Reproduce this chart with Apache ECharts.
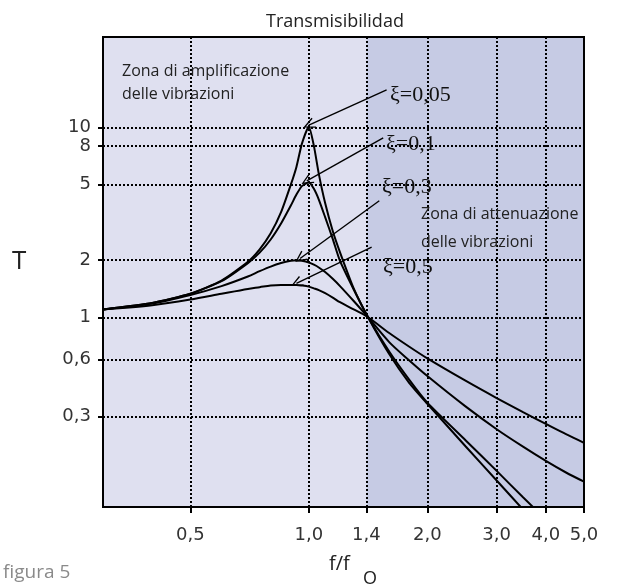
<!DOCTYPE html>
<html>
<head>
<meta charset="utf-8">
<script src="https://cdn.jsdelivr.net/npm/echarts@6/dist/echarts.min.js"></script>
<style>
  html, body { margin: 0; padding: 0; background: #fff; }
  #chart { width: 617px; height: 586px; }
</style>
</head>
<body>
<div id="chart"></div>
<script>
// f/fo values where the curves were read
const ratios = [0.3, 0.4, 0.5, 0.6, 0.7, 0.75, 0.8, 0.85, 0.9, 0.93, 0.96, 1.0, 1.03, 1.06, 1.1, 1.15, 1.2, 1.3, 1.414, 1.6, 1.8, 2.0, 2.5, 3.0, 3.5, 4.0, 4.5, 5.0];

// transmissibility T for each damping ratio
const t005 = [1.10, 1.19, 1.33, 1.56, 1.96, 2.28, 2.77, 3.58, 5.0, 6.2, 8.2, 10.1, 8.0, 5.7, 4.0, 2.85, 2.2, 1.42, 1.0, 0.64, 0.45, 0.35, 0.209, 0.138, 0.097, 0.071, 0.055, 0.045];
const t01 = [1.10, 1.19, 1.33, 1.55, 1.93, 2.19, 2.57, 3.12, 3.88, 4.43, 4.91, 5.15, 4.75, 4.17, 3.37, 2.59, 1.98, 1.40, 1.0, 0.66, 0.468, 0.355, 0.225, 0.155, 0.1125, 0.086, 0.068, 0.056];
const t03 = [1.10, 1.18, 1.31, 1.46, 1.64, 1.75, 1.85, 1.93, 1.985, 2.0, 1.985, 1.944, 1.893, 1.83, 1.73, 1.595, 1.46, 1.218, 1.0, 0.74, 0.592, 0.49, 0.339, 0.257, 0.208, 0.175, 0.152, 0.136];
const t05 = [1.10, 1.158, 1.24, 1.33, 1.41, 1.44, 1.47, 1.48, 1.48, 1.48, 1.47, 1.45, 1.42, 1.39, 1.34, 1.27, 1.2, 1.1, 1.0, 0.826, 0.699, 0.607, 0.463, 0.375, 0.316, 0.274, 0.242, 0.218];

const xTicks = [0.5, 1, 1.4, 2, 3, 4, 5];
const xTickLabels = ['0,5', '1,0', '1,4', '2,0', '3,0', '4,0', '5,0'];
const yTicks = [0.3, 0.6, 1, 2, 5, 8, 10];
const yTickLabels = ['0,3', '0,6', '1', '2', '5', '8', '10'];

const dampingLabels = ['ξ=0,05', 'ξ=0,1', 'ξ=0,3', 'ξ=0,5'];
// arrows: tail near the label, head on the curve
const arrowFrom = [[1.576, 15.8], [1.545, 8.83], [1.51, 4.11], [1.444, 2.34]];
const arrowTo = [[1.0, 10.3], [0.988, 5.23], [0.95, 2.04], [0.93, 1.51]];

const zoneSplit = 1.4;

function tickName(list, names, v) {
  for (let i = 0; i < list.length; i++) {
    if (Math.abs(list[i] - v) < 1e-6 * list[i]) return names[i];
  }
  return '';
}

function pairs(ys) {
  return ratios.map((r, i) => [r, ys[i]]);
}

const chart = echarts.init(document.getElementById('chart'));

const curveStyle = { color: '#000', width: 2 };
const sans = '"Open Sans", "DejaVu Sans", sans-serif';
const tickFont = '"DejaVu Sans", sans-serif';
const serif = '"Liberation Serif", "DejaVu Serif", serif';
const gridDots = { color: '#000', width: 2, type: [2, 2] };
// open "V" arrow head
const openArrow = 'path://M0,0 L6,12 L4.6,12.6 L0,3 L-4.6,12.6 L-6,12 Z';

const option = {
  animation: false,
  grid: {
    left: 103, right: 33, top: 37, bottom: 79,
    show: true,
    borderColor: '#000',
    borderWidth: 2,
    backgroundColor: 'transparent'
  },
  xAxis: {
    type: 'log',
    min: 0.3,
    max: 5,
    axisLine: { lineStyle: { color: '#000', width: 2 } },
    axisTick: { show: true, customValues: xTicks, length: 6, lineStyle: { color: '#000', width: 2 } },
    axisLabel: {
      customValues: xTicks,
      formatter: v => tickName(xTicks, xTickLabels, v),
      fontFamily: tickFont, fontSize: 18, color: '#333', margin: 19
    },
    splitLine: { show: true, lineStyle: gridDots },
    minorTick: { show: false },
    minorSplitLine: { show: false }
  },
  yAxis: {
    type: 'log',
    min: 0.1,
    max: 30,
    axisLine: { show: true, lineStyle: { color: '#000', width: 2 } },
    axisTick: { show: true, customValues: yTicks, length: 5, lineStyle: { color: '#000', width: 2 } },
    axisLabel: {
      customValues: yTicks,
      formatter: v => tickName(yTicks, yTickLabels, v),
      fontFamily: tickFont, fontSize: 18, color: '#333', margin: 12
    },
    splitLine: { show: true, lineStyle: gridDots }
  },
  series: [
    {
      // background zones
      type: 'line',
      z: -1,
      data: [[1, 1]],
      showSymbol: false,
      lineStyle: { width: 0, opacity: 0 },
      silent: true,
      markArea: {
        silent: true,
        z: -1,
        data: [
          [{ xAxis: 0.3, itemStyle: { color: '#dfe0f0' } }, { xAxis: zoneSplit }],
          [{ xAxis: zoneSplit, itemStyle: { color: '#c6cbe4' } }, { xAxis: 5 }]
        ]
      }
    },
    { name: dampingLabels[0], type: 'line', data: pairs(t005), showSymbol: false, smooth: 0.2, lineStyle: curveStyle },
    { name: dampingLabels[1], type: 'line', data: pairs(t01), showSymbol: false, smooth: 0.2, lineStyle: curveStyle },
    { name: dampingLabels[2], type: 'line', data: pairs(t03), showSymbol: false, smooth: 0.3, lineStyle: curveStyle },
    { name: dampingLabels[3], type: 'line', data: pairs(t05), showSymbol: false, smooth: 0.3, lineStyle: curveStyle },
    {
      // arrows from labels to curves
      type: 'line',
      z: 5,
      data: [],
      markLine: {
        silent: true,
        symbol: ['none', openArrow],
        symbolSize: [11, 12],
        label: { show: false },
        lineStyle: { color: '#000', width: 1.4, type: 'solid' },
        data: arrowFrom.map((p, i) => [{ coord: p }, { coord: arrowTo[i] }])
      }
    }
  ],
  graphic: [
    { type: 'text', z: 10, left: 266, top: 13, style: { text: 'Transmisibilidad', font: '18px ' + sans, fill: '#222' } },
    { type: 'text', z: 10, left: 12, top: 249, style: { text: 'T', font: '26px ' + sans, fill: '#222' } },
    { type: 'text', z: 10, left: 122, top: 60, style: { text: 'Zona di amplificazione\ndelle vibrazioni', font: '16px ' + sans, lineHeight: 23, fill: '#222' } },
    { type: 'text', z: 10, left: 421, top: 200, style: { text: 'Zona di attenuazione\ndelle vibrazioni', font: '16px ' + sans, lineHeight: 28, fill: '#222' } },
    { type: 'text', z: 10, left: 390, top: 84, style: { text: dampingLabels[0], font: '22px ' + serif, fill: '#111' } },
    { type: 'text', z: 10, left: 386, top: 133, style: { text: dampingLabels[1], font: '22px ' + serif, fill: '#111' } },
    { type: 'text', z: 10, left: 382, top: 176, style: { text: dampingLabels[2], font: '22px ' + serif, fill: '#111' } },
    { type: 'text', z: 10, left: 383, top: 256, style: { text: dampingLabels[3], font: '22px ' + serif, fill: '#111' } },
    { type: 'text', z: 10, left: 329, top: 554, style: { text: 'f/f', font: '20px ' + sans, fill: '#222' } },
    { type: 'text', z: 10, left: 363, top: 570, style: { text: 'O', font: '18px ' + sans, fill: '#222' } },
    { type: 'text', z: 10, left: 3, top: 563, style: { text: 'figura 5', font: '19px ' + sans, fill: '#8a8a8a' } }
  ]
};

chart.setOption(option);
</script>
</body>
</html>
